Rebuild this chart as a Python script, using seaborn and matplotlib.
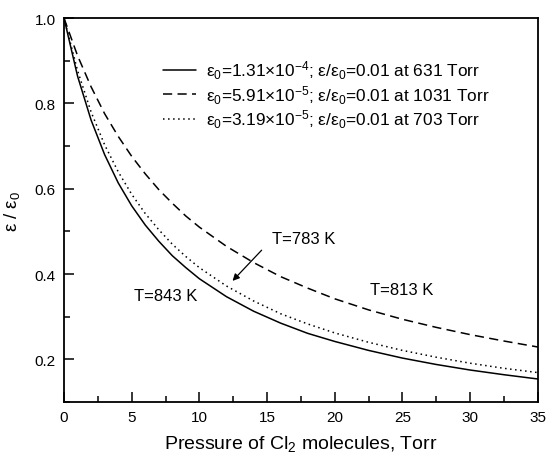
import matplotlib
matplotlib.use("Agg")
import matplotlib.pyplot as plt
from matplotlib.ticker import MultipleLocator
import seaborn as sns
import pandas as pd

# pressure of Cl2, Torr
pressure = [0, 1, 2, 3, 4, 5, 6, 7, 8, 9, 10, 12, 14, 16, 18, 20,
            22.5, 25, 27.5, 30, 32.5, 35]

# eps / eps0
ratio_843 = [1.000, 0.864, 0.761, 0.680, 0.614, 0.560, 0.515, 0.477, 0.443,
             0.415, 0.389, 0.347, 0.313, 0.285, 0.261, 0.242, 0.221, 0.203,
             0.188, 0.175, 0.164, 0.154]
ratio_813 = [1.000, 0.912, 0.839, 0.776, 0.723, 0.676, 0.635, 0.598, 0.566,
             0.536, 0.510, 0.465, 0.427, 0.394, 0.367, 0.342, 0.316, 0.294,
             0.275, 0.258, 0.243, 0.229]
ratio_783 = [1.000, 0.877, 0.780, 0.703, 0.640, 0.587, 0.542, 0.504, 0.470,
             0.441, 0.415, 0.372, 0.337, 0.307, 0.283, 0.262, 0.240, 0.221,
             0.205, 0.191, 0.179, 0.169]

labels = [
    "ε$_0$=1.31×10$^{-4}$; ε/ε$_0$=0.01 at 631 Torr",
    "ε$_0$=5.91×10$^{-5}$; ε/ε$_0$=0.01 at 1031 Torr",
    "ε$_0$=3.19×10$^{-5}$; ε/ε$_0$=0.01 at 703 Torr",
]

sns.set_style("ticks")
plt.rcParams["font.family"] = ["Liberation Sans", "DejaVu Sans"]
plt.rcParams["mathtext.fontset"] = "custom"
plt.rcParams["mathtext.rm"] = "Liberation Sans"
plt.rcParams["mathtext.it"] = "Liberation Sans:italic"
plt.rcParams["mathtext.default"] = "regular"
for key in ["text.color", "axes.labelcolor", "xtick.color", "ytick.color",
            "xtick.labelcolor", "ytick.labelcolor"]:
    plt.rcParams[key] = "black"

fig = plt.figure(figsize=(5.5, 4.56), dpi=100)
ax = fig.add_axes([0.1164, 0.1162, 0.8614, 0.8418])

styles = [("-", None), ("--", (6, 3.5)), (":", (1, 2.3))]
series = [ratio_843, ratio_813, ratio_783]
for vals, lab, (ls, dash) in zip(series, labels, styles):
    df = pd.DataFrame({"p": pressure, "r": vals})
    sns.lineplot(data=df, x="p", y="r", ax=ax, linestyle=ls, color="black",
                 linewidth=1.1, label=lab)
    if dash is not None:
        ax.lines[-1].set_dashes(dash)

ax.set_xlim(0, 35)
ax.set_ylim(0.1, 1.0)
ax.xaxis.set_major_locator(MultipleLocator(5))
ax.xaxis.set_minor_locator(MultipleLocator(2.5))
ax.yaxis.set_major_locator(MultipleLocator(0.2))
ax.yaxis.set_minor_locator(MultipleLocator(0.1))
ax.tick_params(which="both", direction="in", top=False, right=False,
               labelsize=11, width=1.1, color="black")
ax.tick_params(which="major", length=7, pad=6)
ax.tick_params(which="minor", length=4)
for sp in ax.spines.values():
    sp.set_visible(True)
    sp.set_linewidth(1.3)
    sp.set_color("black")

ax.set_xlabel("Pressure of Cl$_2$ molecules, Torr", fontsize=14, labelpad=6)
ax.set_ylabel("ε / ε$_0$", fontsize=13.5, labelpad=9)

leg = ax.legend(loc="upper left", bbox_to_anchor=(0.209, 0.895), frameon=False,
                fontsize=12.4, handlelength=1.9, handletextpad=0.6,
                labelspacing=0.12, borderpad=0, borderaxespad=0)

ax.text(5.2, 0.349, "T=843 K", fontsize=12, va="center", ha="left")
ax.text(22.6, 0.363, "T=813 K", fontsize=12, va="center", ha="left")
ax.text(15.4, 0.484, "T=783 K", fontsize=12, va="center", ha="left")
ax.annotate("", xy=(12.45, 0.384), xytext=(14.6, 0.456),
            arrowprops=dict(arrowstyle="-|>", color="black", lw=0.9,
                            mutation_scale=10, shrinkA=0, shrinkB=0))

fig.savefig("out.png", dpi=100)
